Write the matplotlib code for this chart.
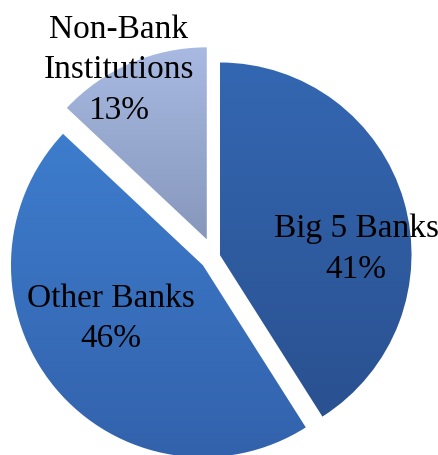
import numpy as np
import matplotlib
matplotlib.use("Agg")
import matplotlib.pyplot as plt
from matplotlib.colors import LinearSegmentedColormap

# market share data
labels = ["Big 5 Banks", "Other Banks", "Non-Bank\nInstitutions"]
shares = [41, 46, 13]
explode = [0.03, 0.075, 0.095]

# top / bottom colour of each slice gradient
top_colors = ["#3467B2", "#3D7DCD", "#A8BAE2"]
bottom_colors = ["#2A5190", "#3362AC", "#8797BC"]

# label anchor points (pie units)
label_pos = [(0.74, 0.04), (-0.536, -0.32), (-0.495, 0.975)]

plt.rcParams["font.family"] = ["Liberation Serif", "DejaVu Serif"]

fig = plt.figure(figsize=(4.39, 4.56), dpi=100)
ax = fig.add_axes([0, 0, 1, 1])

wedges, _ = ax.pie(shares, explode=explode, startangle=90, counterclock=False,
                   radius=1.0, wedgeprops=dict(linewidth=0))

# fill each wedge with a vertical gradient clipped to its shape
grad = np.linspace(0, 1, 256).reshape(-1, 1)
for w, c_top, c_bot in zip(wedges, top_colors, bottom_colors):
    w.set_facecolor("none")
    bb = w.get_path().get_extents(w.get_transform() - ax.transData)
    cmap = LinearSegmentedColormap.from_list("g", [c_top, c_bot])
    im = ax.imshow(grad, cmap=cmap, aspect="auto",
                   extent=[bb.x0, bb.x1, bb.y0, bb.y1], origin="upper",
                   zorder=1, interpolation="bilinear")
    im.set_clip_path(w)

ax.set_xlim(-1.115, 1.172)
ax.set_ylim(-1.036, 1.339)
ax.set_aspect("auto")

for lab, share, (x, y) in zip(labels, shares, label_pos):
    ax.text(x, y, f"{lab}\n{share}%", ha="center", va="center",
            fontsize=24, color="black", linespacing=1.42, zorder=3)

ax.axis("off")
fig.savefig("out.png", dpi=100)
